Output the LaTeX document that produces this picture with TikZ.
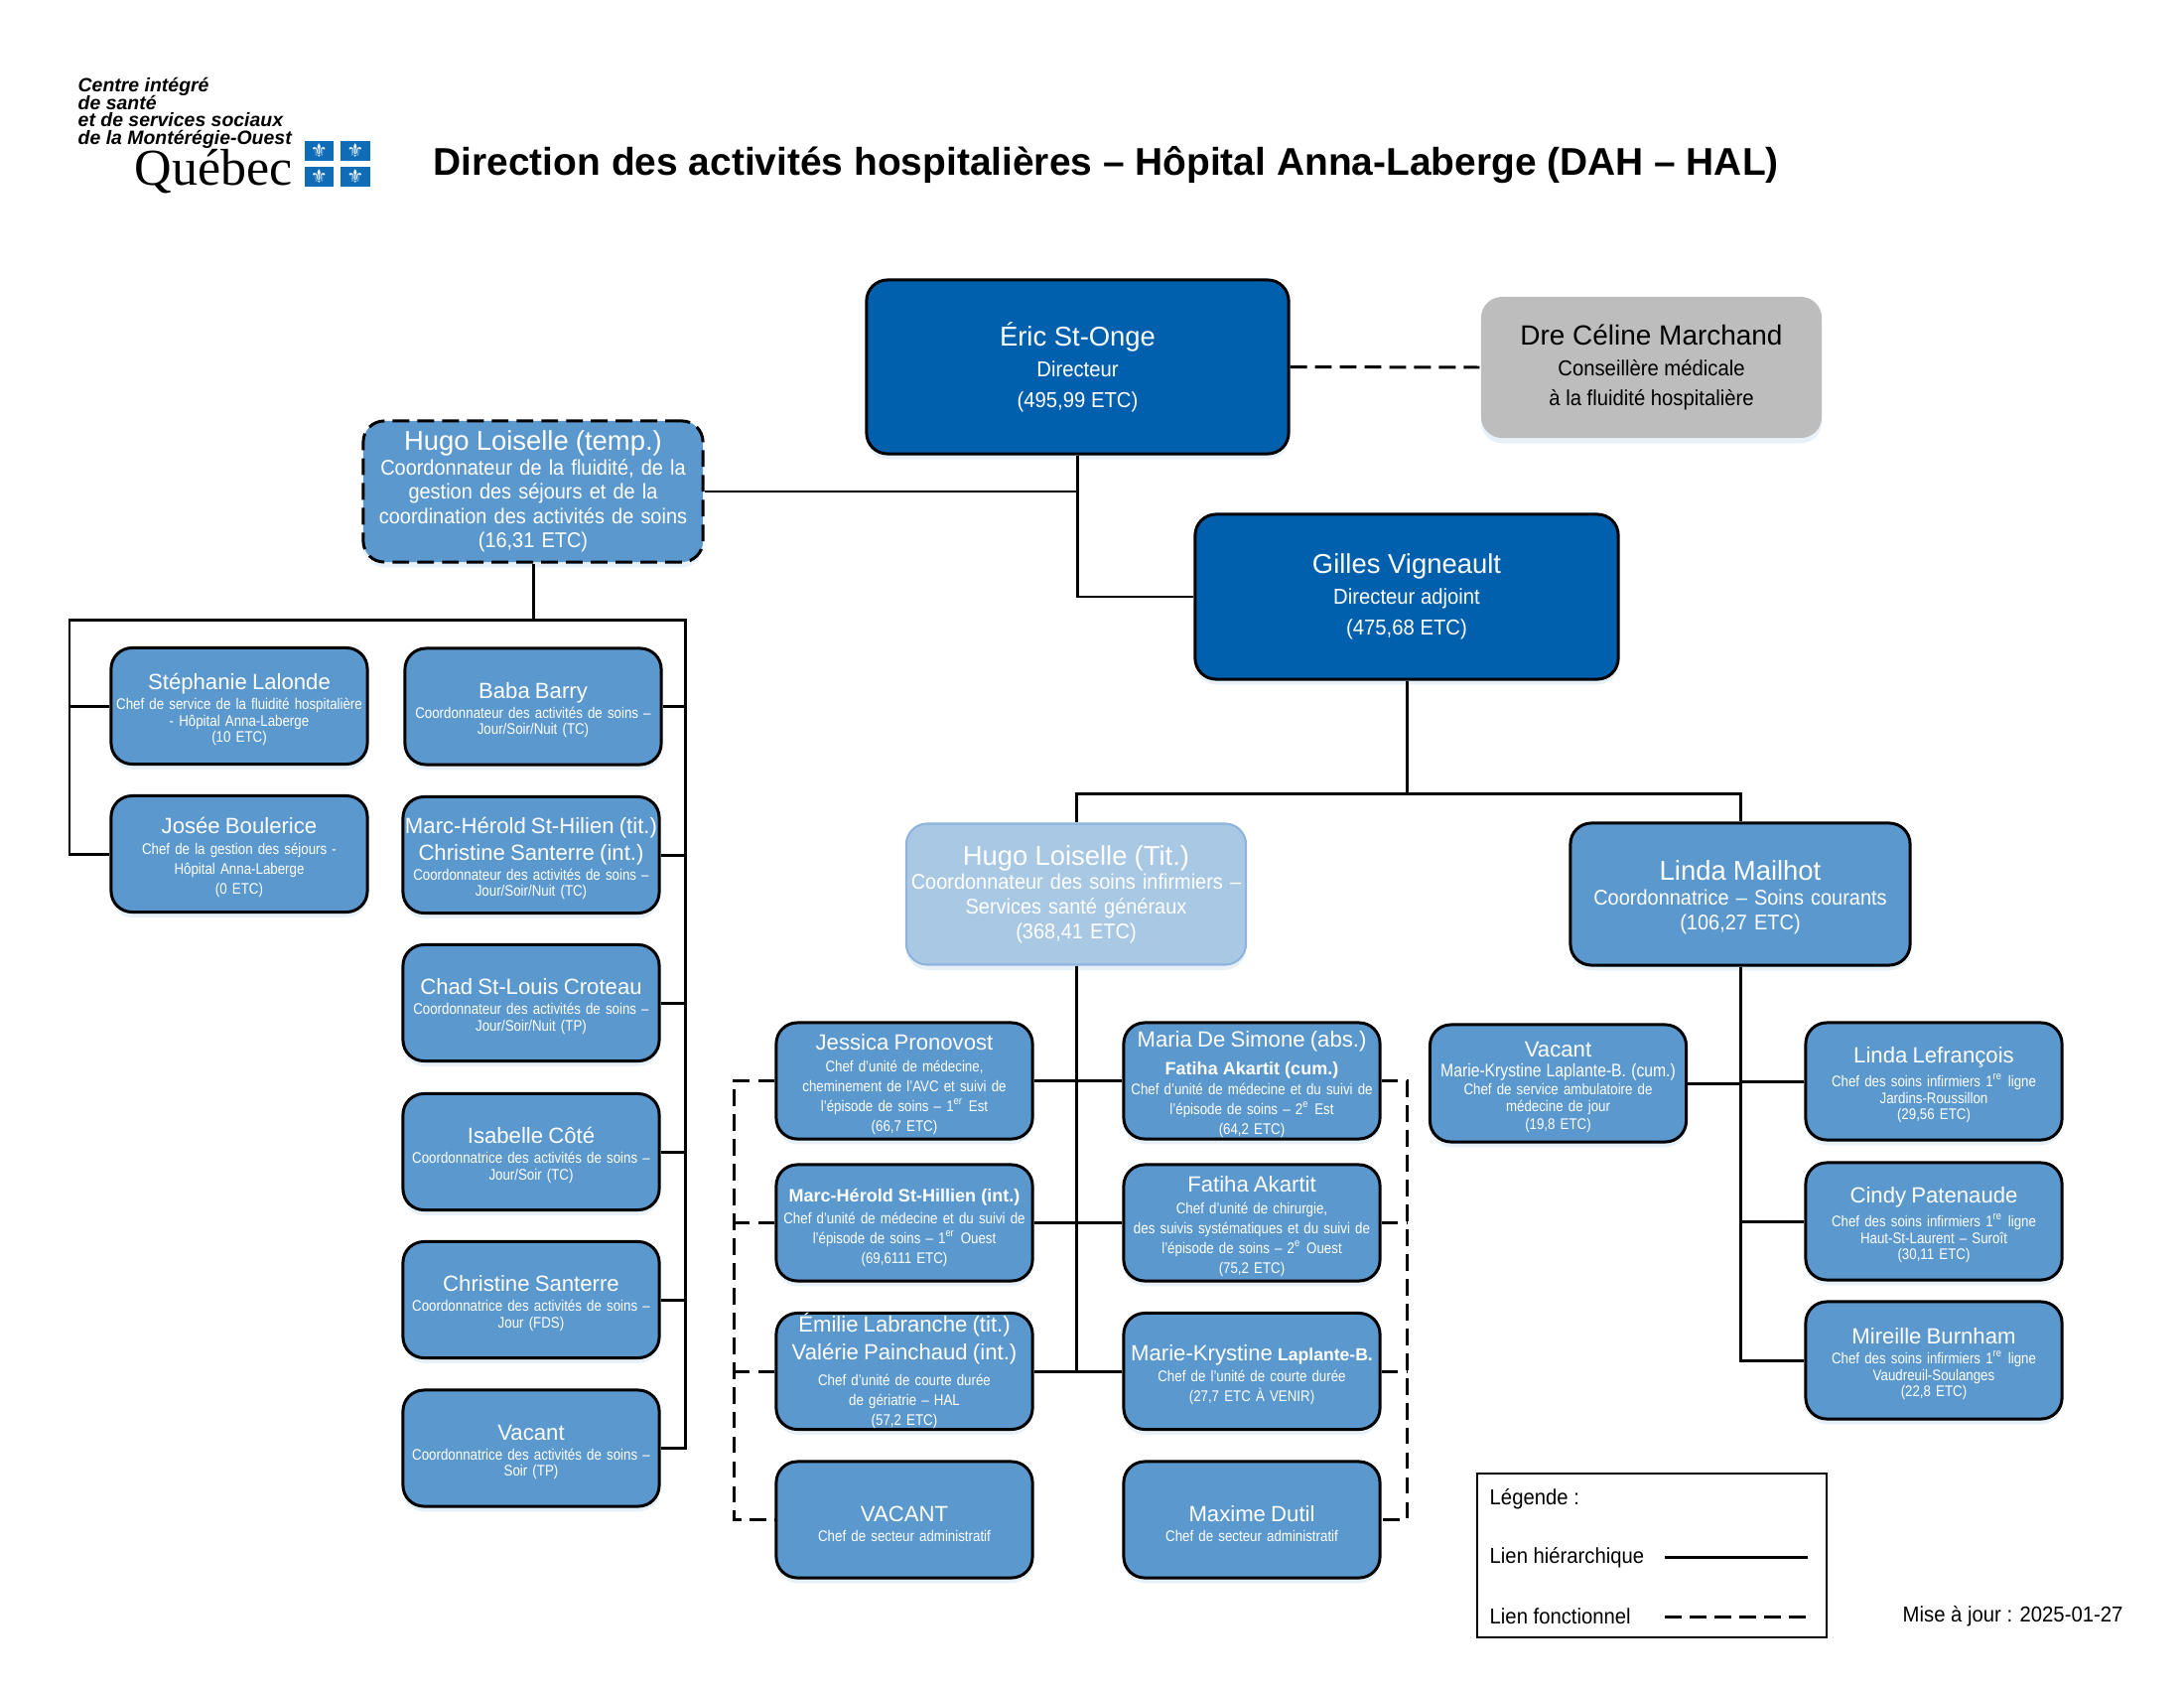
\documentclass[tikz,border=0pt]{standalone}
\usepackage{fontspec}
\setmainfont{Liberation Sans}
\newfontfamily\narrowfont{Liberation Sans}[FakeStretch=0.93]
\newfontfamily\thinfont{Liberation Sans}[FakeStretch=0.86]
\newfontfamily\serieffont{Liberation Serif}
\newfontfamily\lysfont{DejaVu Sans}
\usetikzlibrary{calc, positioning, shadows}
\definecolor{darkblue}{HTML}{0060AE}
\definecolor{midblue}{HTML}{5B98CE}
\definecolor{paleblue}{HTML}{A9C8E4}
\definecolor{paleedge}{HTML}{8DB4DC}
\definecolor{softgrey}{HTML}{BDBDBD}
\definecolor{flagblue}{HTML}{0F6CB6}
\newcommand{\nm}[1]{{\fontspec{Liberation Sans}\fontsize{6.3}{7.4}\selectfont #1}}
\newcommand{\nmtop}[2][0pt]{\rule{0pt}{3pt}\smash{\raisebox{#1}{\nm{#2}}}}
\newcommand{\nb}[1]{{\fontspec{Liberation Sans}\bfseries\fontsize{5.13}{7}\selectfont #1}}
\newcommand{\bignm}[1]{{\fontspec{Liberation Sans}\fontsize{7.8}{9}\selectfont #1}}
\tikzset{orgbox/.style = {draw=black, line width=0.85pt, rounded corners=6pt, inner sep=0pt, align=center, text=white,
    drop shadow={shadow xshift=0pt, shadow yshift=-1.5pt, fill=paleblue, opacity=0.25}}}
\tikzset{unit/.style = {orgbox, fill=midblue, minimum height=1.17cm, text width=2.56cm, minimum width=2.58cm,
    font=\thinfont\fontsize{4.4}{4.7}\selectfont, execute at begin node={\rule{0pt}{6.6pt}}}}
\tikzset{chief/.style = {orgbox, fill=darkblue, font=\narrowfont\fontsize{6.2}{8.8}\selectfont}}
\tikzset{coord/.style = {orgbox, fill=midblue, minimum width=3.42cm, minimum height=1.42cm, text width=3.40cm,
    font=\narrowfont\fontsize{6.1}{7}\selectfont}}
\tikzset{hier/.style = {line width=0.85pt}}
\tikzset{func/.style = {line width=0.85pt, dash pattern=on 4.8pt off 2.3pt}}
\tikzset{flag/.style = {fill=flagblue, text=white, minimum width=0.29cm, minimum height=0.19cm, inner sep=0pt,
    font=\lysfont\fontsize{5.4}{5.4}\selectfont}}
\tikzset{plain/.style = {inner sep=0pt, font=\narrowfont\fontsize{6.2}{7}\selectfont}}
\begin{document}
\begin{tikzpicture}[x=0.01cm, y=-0.01cm]
  \useasboundingbox (0,0) rectangle (2200,1700);

  % logo and title
  \node[inner sep=0pt, anchor=north west, align=left, font=\bfseries\itshape\fontsize{5.53}{4.95}\selectfont,
      execute at begin node={\lineskiplimit=-5pt}] (logotxt) at (78,78)
    {Centre intégré\\de santé\\et de services sociaux\\de la Montérégie-Ouest};
  \node[inner sep=0pt, anchor=base west, font=\serieffont\fontsize{14.8}{16}\selectfont] (quebec) at (135,187) {Québec};
  \foreach \n/\x/\y in {fa/321.5/152, fb/358/152, fc/321.5/178, fd/358/178}
    \node[flag] (\n) at (\x,\y) {⚜};
  \node[inner sep=0pt, anchor=base west, font=\bfseries\fontsize{11.06}{13}\selectfont] (title) at (436,176.5)
    {Direction des activités hospitalières – Hôpital Anna-Laberge (DAH – HAL)};

  % top of the chart
  \node[chief, minimum width=4.25cm, minimum height=1.75cm] (eric) at (1085.5,369.5)
    {\bignm{Éric St-Onge}\\Directeur\\(495,99 ETC)};
  \node[chief, draw=none, fill=softgrey, text=black, minimum width=3.43cm, minimum height=1.42cm] (celine) at (1663.5,370)
    {\nm{\fontsize{7.95}{9}\selectfont Dre Céline Marchand}\\Conseillère médicale\\à la fluidité hospitalière};
  \node[chief, minimum width=4.26cm, minimum height=1.66cm] (gilles) at (1417,601)
    {\bignm{Gilles Vigneault}\\Directeur adjoint\\(475,68 ETC)};
  \node[coord, dashed, dash pattern=on 4.8pt off 2.3pt] (loiselle) at (537,495)
    {\bignm{Hugo Loiselle (temp.)}\\Coordonnateur de la fluidité, de la\\gestion des séjours et de la\\coordination des activités de soins\\(16,31 ETC)};
  \node[coord, fill=paleblue, draw=paleedge, line width=0.6pt] (loisellet) at (1084,900.5)
    {\bignm{Hugo Loiselle (Tit.)}\\Coordonnateur des soins infirmiers –\\Services santé généraux\\(368,41 ETC)};
  \node[coord, minimum height=1.43cm, execute at begin node={\rule{0pt}{7.5pt}}] (mailhot) at (1753,900.5)
    {\bignm{Linda Mailhot}\\Coordonnatrice – Soins courants\\(106,27 ETC)};

  % left block
  \node[unit] (lalonde) at (241,711)
    {\nm{Stéphanie Lalonde}\\[1pt]Chef de service de la fluidité hospitalière\\- Hôpital Anna-Laberge\\(10 ETC)};
  \node[unit] (boulerice) at (241,860)
    {\nm{Josée Boulerice}\\[1.3pt]Chef de la gestion des séjours -\\[1pt]Hôpital Anna-Laberge\\[1pt](0 ETC)};
  \node[unit] (barry) at (537,711.5)
    {\nm{Baba Barry}\\[1pt]Coordonnateur des activités de soins –\\Jour/Soir/Nuit (TC)};
  \node[unit] (sthilien) at (535,861)
    {\nm{Marc-Hérold St-Hilien (tit.)}\\[0.7pt]\nm{Christine Santerre (int.)}\\[1pt]Coordonnateur des activités de soins –\\Jour/Soir/Nuit (TC)};
  \node[unit] (croteau) at (535,1010)
    {\nm{Chad St-Louis Croteau}\\[1pt]Coordonnateur des activités de soins –\\Jour/Soir/Nuit (TP)};
  \node[unit] (cote) at (535,1160)
    {\nm{Isabelle Côté}\\[1pt]Coordonnatrice des activités de soins –\\Jour/Soir (TC)};
  \node[unit] (santerre) at (535,1309)
    {\nm{Christine Santerre}\\[1pt]Coordonnatrice des activités de soins –\\Jour (FDS)};
  \node[unit] (vacantc) at (535,1458.5)
    {\nm{Vacant}\\[1pt]Coordonnatrice des activités de soins –\\Soir (TP)};

  % middle block
  \node[unit] (pronovost) at (911,1088.5)
    {\nm{Jessica Pronovost}\\[1.5pt]Chef d’unité de médecine,\\[1pt]cheminement de l’AVC et suivi de\\[1pt]l’épisode de soins – 1\textsuperscript{er} Est\\[1pt](66,7 ETC)};
  \node[unit, execute at begin node={}] (desimone) at (1261,1088.5)
    {\nmtop{Maria De Simone (abs.)}\\[3.3pt]\nb{Fatiha Akartit (cum.)}\\[1pt]Chef d’unité de médecine et du suivi de\\[1pt]l’épisode de soins – 2\textsuperscript{e} Est\\[1pt](64,2 ETC)};
  \node[unit] (sthillien) at (911,1231.5)
    {\nb{Marc-Hérold St-Hillien (int.)}\\[1.5pt]Chef d’unité de médecine et du suivi de\\[1pt]l’épisode de soins – 1\textsuperscript{er} Ouest\\[1pt](69,6111 ETC)};
  \node[unit] (akartit) at (1261,1231.5)
    {\nm{Fatiha Akartit}\\[1.5pt]Chef d’unité de chirurgie,\\[1pt]des suivis systématiques et du suivi de\\[1pt]l’épisode de soins – 2\textsuperscript{e} Ouest\\[1pt](75,2 ETC)};
  \node[unit, execute at begin node={}] (labranche) at (911,1381)
    {\nmtop[1.4pt]{Émilie Labranche (tit.)}\\[2pt]\nm{Valérie Painchaud (int.)}\\[2.6pt]Chef d’unité de courte durée\\[1pt]de gériatrie – HAL\\[1pt](57,2 ETC)};
  \node[unit] (laplante) at (1261,1381)
    {\nm{Marie-Krystine {\bfseries\fontsize{5}{7}\selectfont Laplante-B.}}\\[1.5pt]Chef de l’unité de courte durée\\[1pt](27,7 ETC À VENIR)};
  \node[unit] (vacantm) at (911,1530.5)
    {\nm{VACANT}\\[1pt]Chef de secteur administratif};
  \node[unit] (dutil) at (1261,1530.5)
    {\nm{Maxime Dutil}\\[1pt]Chef de secteur administratif};

  % right block
  \node[unit, minimum height=1.18cm] (vacantr) at (1569.5,1091)
    {\nm{Vacant}\\[1pt]{\fontsize{5.2}{4.7}\selectfont Marie-Krystine Laplante-B. (cum.)}\\[0.3pt]Chef de service ambulatoire de\\[0.3pt]médecine de jour\\[0.3pt](19,8 ETC)};
  \node[unit, minimum height=1.18cm] (lefrancois) at (1948,1089)
    {\nm{Linda Lefrançois}\\[1pt]Chef des soins infirmiers 1\textsuperscript{re} ligne\\Jardins-Roussillon\\(29,56 ETC)};
  \node[unit, minimum height=1.18cm] (patenaude) at (1948,1230)
    {\nm{Cindy Patenaude}\\[1pt]Chef des soins infirmiers 1\textsuperscript{re} ligne\\Haut-St-Laurent – Suroît\\(30,11 ETC)};
  \node[unit, minimum height=1.18cm] (burnham) at (1948,1370)
    {\nm{Mireille Burnham}\\[1pt]Chef des soins infirmiers 1\textsuperscript{re} ligne\\Vaudreuil-Soulanges\\(22,8 ETC)};

  % legend and date
  \node[draw, line width=0.7pt, minimum width=3.52cm, minimum height=1.65cm, inner sep=0pt] (legende) at (1664,1566.5) {};
  \node[plain, anchor=west] (legt) at (1500,1510) {Légende :};
  \node[plain, anchor=west] (legh) at (1500,1569) {Lien hiérarchique};
  \node[plain, anchor=west] (legf) at (1500,1628) {Lien fonctionnel};
  \coordinate (lha) at (1677,1568);
  \coordinate (lhb) at (1821,1568);
  \coordinate (lfa) at (1677,1628);
  \coordinate (lfb) at (1821,1628);
  \node[plain, anchor=west] (maj) at (1916,1628) {Mise à jour : 2025-01-27};

  % junction points
  \coordinate (busg) at (1417,799.5);
  \coordinate (busm) at (1753,799.5);
  \coordinate (topl) at (70,624.5);
  \coordinate (topr) at (690,624.5);
  \coordinate (dashl) at (739,1300);
  \coordinate (dashr) at (1417,1300);

  % hierarchical links
  \draw[hier] (eric.south) |- (gilles.west);
  \draw[hier] (loiselle.east) -- (loiselle.east-|eric.south);
  \draw[hier] (gilles.south) -- (busg);
  \draw[hier] (loisellet.north) -- (loisellet.north|-busg) -- (busm) -- (mailhot.north);
  \draw[hier] (loiselle.south) -- (loiselle.south|-topl);
  \draw[hier] (boulerice.west) -| (topl) -- (topr) |- (vacantc.east);
  \draw[hier] (lalonde.west) -- (lalonde.west-|topl);
  \foreach \i in {barry, sthilien, croteau, cote, santerre}
  {
    \draw[hier] (\i.east) -- (\i.east-|topr);
  }
  \foreach \i/\o in {pronovost/desimone, sthillien/akartit, labranche/laplante}
  {
    \draw[hier] (\i) -- (\o);
  }
  \draw[hier] (loisellet.south) -- (loisellet.south|-laplante.west);
  \draw[hier] (mailhot.south) -- (mailhot.south|-burnham.west) -- (burnham.west);
  \foreach \i in {lefrancois, patenaude}
  {
    \draw[hier] (\i.west) -- (\i.west-|busm);
  }
  \draw[hier] (vacantr.east) -- (vacantr.east-|busm);
  \draw[hier] (lha) -- (lhb);

  % functional links
  \draw[func] (eric.east) -- (celine.west);
  \draw[func] (pronovost.west) -| (dashl) |- (vacantm.west);
  \foreach \i in {sthillien, labranche}
  {
    \draw[func] (\i.west) -- (\i.west-|dashl);
  }
  \draw[func] (desimone.east) -| (dashr) |- (dutil.east);
  \foreach \i in {akartit, laplante}
  {
    \draw[func] (\i.east) -- (\i.east-|dashr);
  }
  \draw[func] (lfa) -- (lfb);
\end{tikzpicture}
\end{document}
